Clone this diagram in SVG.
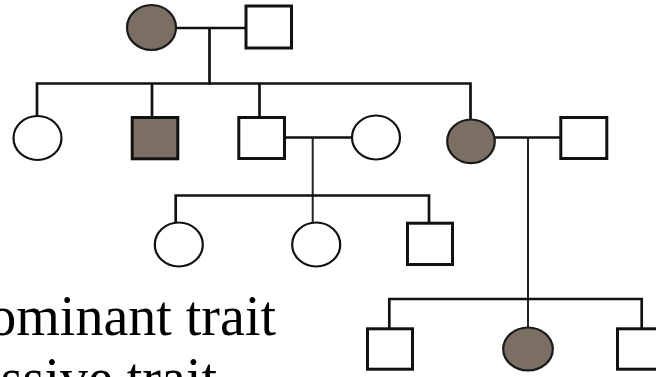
<svg xmlns="http://www.w3.org/2000/svg" width="656" height="377" viewBox="0 0 656 377">
  <style>
    .male { fill: #ffffff; stroke: #111111; stroke-width: 3; }
    .female { fill: #ffffff; stroke: #111111; stroke-width: 2.2; }
    .affected { fill: #7a6f62; stroke: #1a1a1a; stroke-width: 2.2; }
    .affected-male { fill: #7a6f62; stroke: #111111; stroke-width: 3; }
    .line { fill: none; stroke: #111111; stroke-width: 2.7; stroke-linecap: butt; stroke-linejoin: miter; }
    .descent { fill: none; stroke: #222222; stroke-width: 2; }
    .legend { font-family: "Liberation Serif", "Times New Roman", serif; font-size: 56px; fill: #000000; }
  </style>
  <rect width="656" height="377" fill="#ffffff"/>

  <!-- connectors: marriage lines, descent lines, sibship lines -->
  <g id="connectors">
    <path class="line" d="M176 28 H245 M209.5 28 V84.5"/>
    <path class="line" d="M37 116 V83.5 H470.5 V120 M152 83.5 V117 M259.5 83.5 V117"/>
    <path class="line" d="M286 137.5 H352"/>
    <path class="descent" d="M312.7 137.5 V223"/>
    <path class="line" d="M175.7 223 V195.5 H429 V223"/>
    <path class="line" d="M495 137.5 H560"/>
    <path class="descent" d="M528 137.5 V328"/>
    <path class="line" d="M389.3 328 V299 H641.7 V328"/>
  </g>

  <!-- generation I -->
  <g id="g1-mother"><ellipse class="affected" cx="151.5" cy="27.5" rx="24.5" ry="22.5"/></g>
  <g id="g1-father"><rect class="male" x="246" y="6" width="45.5" height="42"/></g>

  <!-- generation II -->
  <g id="g2-daughter1"><ellipse class="female" cx="37.5" cy="138" rx="24" ry="22"/></g>
  <g id="g2-son1"><rect class="affected-male" x="132.2" y="117.5" width="45.6" height="41.3"/></g>
  <g id="g2-son2"><rect class="male" x="238.8" y="117.5" width="45.7" height="41"/></g>
  <g id="g2-son2-wife"><ellipse class="female" cx="376" cy="137.5" rx="24" ry="22"/></g>
  <g id="g2-daughter2"><ellipse class="affected" cx="471" cy="141.3" rx="23.8" ry="21.8"/></g>
  <g id="g2-daughter2-husband"><rect class="male" x="560.8" y="117.5" width="46" height="41"/></g>

  <!-- generation III, left family -->
  <g id="g3a-daughter1"><ellipse class="female" cx="178.8" cy="244.5" rx="24" ry="22"/></g>
  <g id="g3a-daughter2"><ellipse class="female" cx="316.2" cy="244.5" rx="24" ry="22"/></g>
  <g id="g3a-son"><rect class="male" x="407.5" y="223.2" width="45" height="41.3"/></g>

  <!-- generation III, right family -->
  <g id="g3b-son1"><rect class="male" x="367.5" y="328.8" width="45" height="40.4"/></g>
  <g id="g3b-daughter"><ellipse class="affected" cx="528" cy="349" rx="24.8" ry="21.5"/></g>
  <g id="g3b-son2"><rect class="male" x="617.5" y="328.8" width="45" height="40.4"/></g>

  <!-- legend text -->
  <g id="legend">
    <text class="legend" x="276" y="335" text-anchor="end">ominant trait</text>
    <text class="legend" x="217" y="397" text-anchor="end">ssive trait</text>
  </g>
</svg>
